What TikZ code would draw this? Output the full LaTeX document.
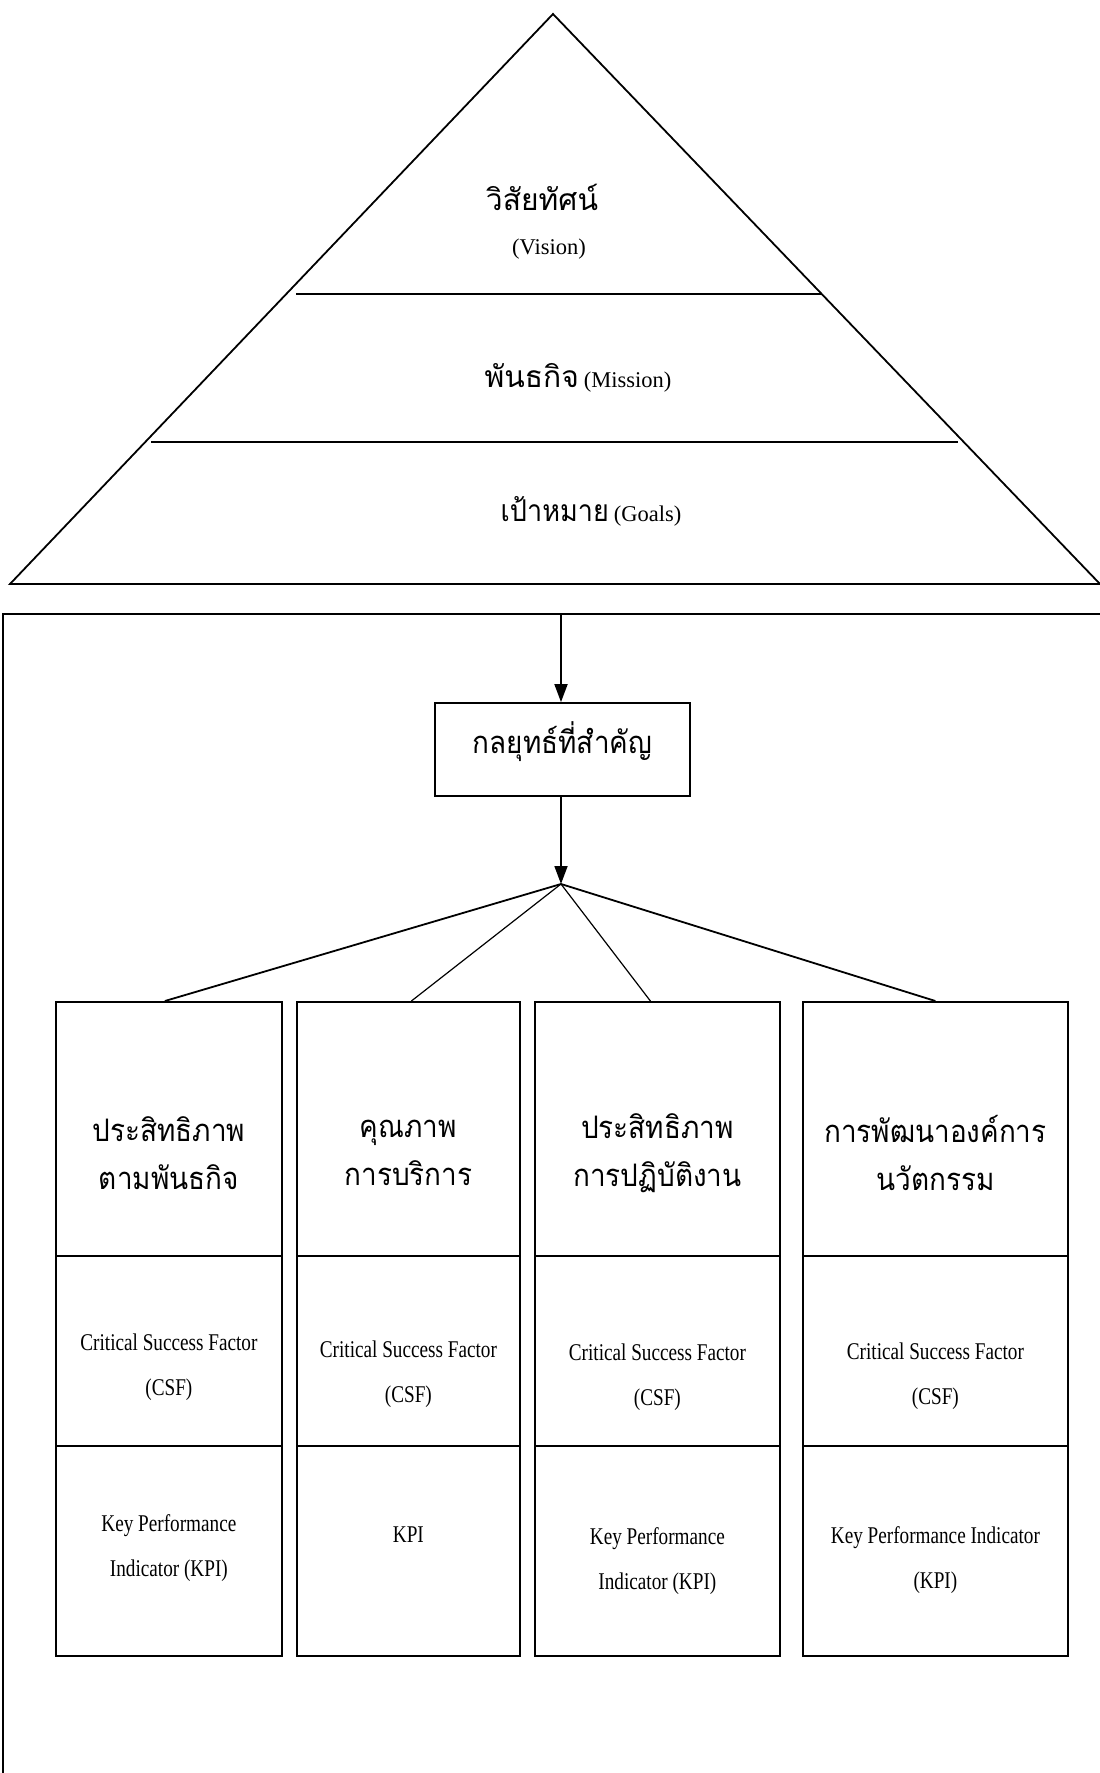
\documentclass[tikz,border=0pt]{standalone}
\usepackage{fontspec}
\usetikzlibrary{arrows.meta}
\setmainfont{Liberation Serif}
\newfontfamily\thaifont[Script=Thai]{Loma}
\newfontfamily\thainarrow[Script=Thai,FakeStretch=0.9]{Loma}
\newfontfamily\narrowfont[FakeStretch=0.8]{Liberation Serif}
\newfontfamily\latinfont{Liberation Serif}

\begin{document}
\begin{tikzpicture}[x=1pt,y=-1pt,
    line width=1.8pt,
    thin line/.style={line width=1.2pt},
    arr/.style={-{Triangle[length=18pt,width=13pt]}},
    cell/.style={draw,line width=1.8pt,minimum width=#1,inner sep=0pt,anchor=north west},
    thtitle/.style={font=\thainarrow\fontsize{31}{48}\selectfont,align=center,inner sep=0pt},
    thpyr/.style={font=\thaifont\fontsize{30}{40}\selectfont,inner sep=0pt},
    enpyr/.style={font=\latinfont\fontsize{22.5}{26}\selectfont,inner sep=0pt},
    entext/.style={font=\narrowfont\fontsize{24}{45}\selectfont,align=center,inner sep=0pt}]

\useasboundingbox (0,0) rectangle (1100,1773);

% ---- pyramid ----
\coordinate (apex) at (553,14);
\coordinate (baseL) at (10,584);
\coordinate (baseR) at (1100,584);
\draw (apex) -- (baseL) -- (baseR) -- cycle;
\coordinate (l1a) at (296,294);
\coordinate (l1b) at (822,294);
\coordinate (l2a) at (151,442);
\coordinate (l2b) at (958,442);
\draw (l1a) -- (l1b);
\draw (l2a) -- (l2b);

\node[thpyr] (visionth) at (542,197) {วิสัยทัศน์};
\node[enpyr] (visionen) at (549,249) {(Vision)};
\node[thpyr] (mission) at (578,378) {พันธกิจ\hspace{5pt}{\latinfont\fontsize{22.5}{26}\selectfont(Mission)}};
\node[thpyr] (goals) at (591,511) {{\thainarrow เป้าหมาย}\hspace{5pt}{\latinfont\fontsize{22.5}{26}\selectfont(Goals)}};

% ---- outer frame ----
\coordinate (frameBL) at (3,1790);
\coordinate (frameTL) at (3,614);
\coordinate (frameTR) at (1110,614);
\draw (frameBL) -- (frameTL) -- (frameTR);
\coordinate (ftop) at (561,614);

% ---- key strategy ----
\node[draw,minimum width=255pt,minimum height=93pt,inner sep=0pt] (strategy) at (562.5,749.5) {};
\node[font=\thainarrow\fontsize{31}{40}\selectfont,inner sep=0pt] (strategytext) at (562.5,742) {กลยุทธ์ที่สำคัญ};
\draw[arr] (ftop) -- (ftop |- strategy.north);

\coordinate (hub) at (561,884);
\draw[arr] (strategy.south -| hub) -- (hub);

% ---- four perspectives ----
\foreach \i/\xl/\xr in {1/55/281, 2/296/519, 3/534/779, 4/802/1067}{
  \pgfmathsetmacro{\w}{\xr-\xl}
  \node[cell=\w pt,minimum height=254pt] (top\i) at (\xl,1001) {};
  \node[cell=\w pt,minimum height=190pt] (csf\i) at (\xl,1255) {};
  \node[cell=\w pt,minimum height=210pt] (kpi\i) at (\xl,1445) {};
}

\draw (hub) -- ([xshift=-4pt]top1.north);
\draw[thin line] (hub) -- ([xshift=3pt]top2.north);
\draw[thin line] (hub) -- ([xshift=-7pt]top3.north);
\draw (hub) -- (top4.north);

% titles
\node[thtitle] (t1) at ([yshift=-24pt]top1.center) {ประสิทธิภาพ\\ตามพันธกิจ};
\node[thtitle] (t2) at ([yshift=-24pt]top2.center) {คุณภาพ\\การบริการ};
\node[thtitle] (t3) at ([yshift=-24pt]top3.center) {ประสิทธิภาพ\\การปฏิบัติงาน};
\node[thtitle] (t4) at ([yshift=-24pt]top4.center) {การพัฒนาองค์การ\\นวัตกรรม};

% critical success factors
\node[entext] (c1) at ([yshift=-16pt]csf1.center) {Critical Success Factor\\(CSF)};
\node[entext] (c2) at ([yshift=-23pt]csf2.center) {Critical Success Factor\\(CSF)};
\node[entext] (c3) at ([yshift=-26pt]csf3.center) {Critical Success Factor\\(CSF)};
\node[entext] (c4) at ([yshift=-25pt]csf4.center) {Critical Success Factor\\(CSF)};

% key performance indicators
\node[entext] (k1) at ([yshift=3pt]kpi1.center) {Key Performance\\Indicator (KPI)};
\node[entext] (k2) at ([yshift=16pt]kpi2.center) {KPI};
\node[entext] (k3) at ([yshift=-10pt]kpi3.center) {Key Performance\\Indicator (KPI)};
\node[entext] (k4) at ([yshift=-9pt]kpi4.center) {Key Performance Indicator\\(KPI)};

\end{tikzpicture}
\end{document}
